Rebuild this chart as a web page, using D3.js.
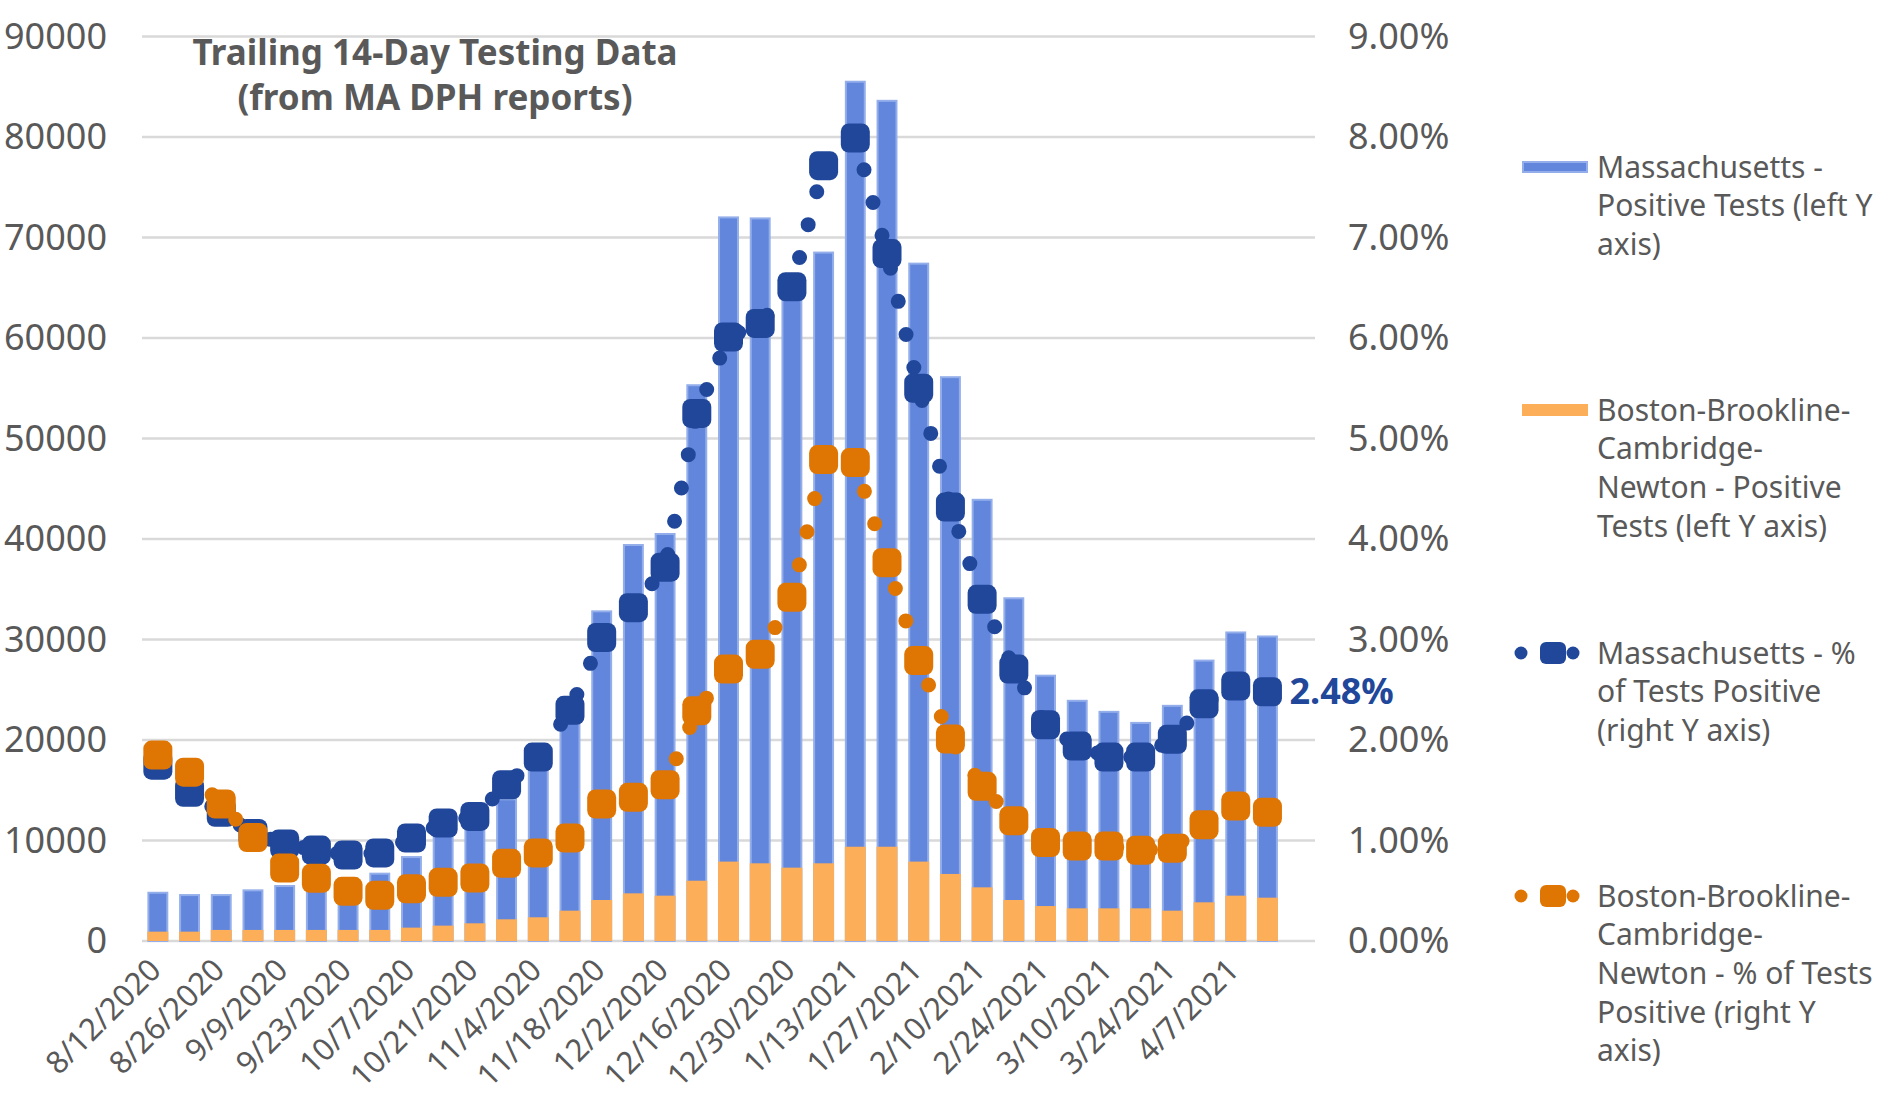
<!DOCTYPE html>
<html>
<head>
<meta charset="utf-8">
<script src="https://cdn.jsdelivr.net/npm/d3@7"></script>
<style>
  body { margin: 0; background: #fff; }
  text { font-family: "Noto Sans", sans-serif; fill: #595959; }
</style>
</head>
<body>
<div id="chart-area"></div>
<script>
// weekly report dates
var dates = ["8/12/2020","8/19/2020","8/26/2020","9/2/2020","9/9/2020","9/16/2020","9/23/2020","9/30/2020",
    "10/7/2020","10/14/2020","10/21/2020","10/28/2020","11/4/2020","11/11/2020","11/18/2020","11/25/2020",
    "12/2/2020","12/9/2020","12/16/2020","12/23/2020","12/30/2020","1/6/2021","1/13/2021","1/20/2021",
    "1/27/2021","2/3/2021","2/10/2021","2/17/2021","2/24/2021","3/3/2021","3/10/2021","3/17/2021",
    "3/24/2021","3/31/2021","4/7/2021","4/14/2021"];

var maPositive = [4900, 4670, 4670, 5140, 5570, 5900, 6300, 6800, 8450, 10700, 12000, 14200, 18000, 23000,
    32900, 39500, 40600, 55400, 72100, 72000, 65000, 68600, 85600, 83700, 67500, 56200, 44000, 34200,
    26500, 24000, 22900, 21800, 23500, 28000, 30800, 30400];

var bbcnPositive = [930, 930, 1100, 1100, 1100, 1100, 1100, 1100, 1330, 1530, 1760, 2160, 2360, 3020, 4080,
    4740, 4510, 6000, 7900, 7730, 7300, 7730, 9380, 9380, 7900, 6670, 5340, 4080, 3480, 3250, 3250, 3250,
    3020, 3850, 4510, 4310];

// percent of tests positive (in %)
var maPct = [1.75, 1.48, 1.28, 1.07, 0.965, 0.905, 0.856, 0.876, 1.025, 1.174, 1.24, 1.555, 1.83, 2.295,
    3.02, 3.317, 3.72, 5.25, 6.01, 6.145, 6.51, 7.715, 7.99, 6.84, 5.50, 4.318, 3.40, 2.706, 2.152, 1.94,
    1.83, 1.83, 2.007, 2.36, 2.537, 2.48];

var bbcnPct = [1.85, 1.68, 1.363, 1.03, 0.726, 0.624, 0.494, 0.455, 0.52, 0.584, 0.627, 0.773, 0.876, 1.025,
    1.363, 1.43, 1.555, 2.29, 2.706, 2.853, 3.42, 4.79, 4.76, 3.764, 2.79, 2.01, 1.54, 1.197, 0.98, 0.945,
    0.945, 0.902, 0.922, 1.157, 1.343, 1.28];

var leftTicks = [0, 10000, 20000, 30000, 40000, 50000, 60000, 70000, 80000, 90000];
var rightTicks = [0, 1, 2, 3, 4, 5, 6, 7, 8, 9];

var legendItems = [
    { type: "bar", color: "#6286DC", stroke: "#93AEEA", lines: ["Massachusetts -", "Positive Tests (left Y", "axis)"] },
    { type: "bar", color: "#FDAE58", stroke: "#FDAE58", lines: ["Boston-Brookline-", "Cambridge-", "Newton - Positive", "Tests (left Y axis)"] },
    { type: "line", color: "#21479A", lines: ["Massachusetts - %", "of Tests Positive", "(right Y axis)"] },
    { type: "line", color: "#DF7604", lines: ["Boston-Brookline-", "Cambridge-", "Newton - % of Tests", "Positive (right Y", "axis)"] }
];

var W = 1897, H = 1098;
var plotLeft = 142, plotRight = 1315, plotTop = 36.5, plotBottom = 941;

var svg = d3.select("#chart-area")
    .append("svg")
    .attr("width", W)
    .attr("height", H);

svg.append("rect").attr("width", W).attr("height", H).attr("fill", "#fff");

// one empty slot after the last week
var x = d3.scaleBand()
    .domain(dates.concat([""]))
    .range([plotLeft, plotRight])
    .paddingInner(0.34)
    .paddingOuter(0.17);

var yL = d3.scaleLinear().domain([0, 90000]).range([plotBottom, plotTop]);
var yR = d3.scaleLinear().domain([0, 9]).range([plotBottom, plotTop]);

function cx(d, i) { return x(dates[i]) + x.bandwidth() / 2; }

// gridlines
svg.append("g")
    .selectAll("line")
    .data(leftTicks)
    .enter()
    .append("line")
        .attr("x1", plotLeft)
        .attr("x2", plotRight)
        .attr("y1", function(d){ return yL(d); })
        .attr("y2", function(d){ return yL(d); })
        .attr("stroke", "#D9D9D9")
        .attr("stroke-width", 2.5);

// left axis
var yAxisL = d3.axisLeft(yL).tickValues(leftTicks).tickSize(0).tickPadding(35)
    .tickFormat(function(d){ return String(d); });
svg.append("g")
    .attr("transform", "translate(" + plotLeft + ",0)")
    .call(yAxisL)
    .call(function(g){ g.select(".domain").remove(); })
    .selectAll("text")
        .attr("font-size", "36px")
        .attr("fill", "#595959")
        .style("font-family", "'Noto Sans', sans-serif");

// right axis
var yAxisR = d3.axisRight(yR).tickValues(rightTicks).tickSize(0).tickPadding(33)
    .tickFormat(function(d){ return d.toFixed(2) + "%"; });
svg.append("g")
    .attr("transform", "translate(" + plotRight + ",0)")
    .call(yAxisR)
    .call(function(g){ g.select(".domain").remove(); })
    .selectAll("text")
        .attr("font-size", "36px")
        .attr("fill", "#595959")
        .style("font-family", "'Noto Sans', sans-serif");

// x axis labels every two weeks
var xAxis = d3.axisBottom(x)
    .tickValues(dates.filter(function(d, i){ return i % 2 === 0 && i < 35; }))
    .tickSize(0);
svg.append("g")
    .attr("transform", "translate(0," + plotBottom + ")")
    .call(xAxis)
    .call(function(g){ g.select(".domain").remove(); })
    .selectAll("text")
        .attr("font-size", "31px")
        .attr("fill", "#595959")
        .style("font-family", "'Noto Sans', sans-serif")
        .attr("text-anchor", "end")
        .attr("y", 0)
        .attr("dy", 0)
        .attr("transform", "translate(5,31) rotate(-45)");

// bars: MA behind, BBCN in front
svg.append("g")
    .selectAll("rect")
    .data(maPositive)
    .enter()
    .append("rect")
        .attr("x", function(d, i){ return x(dates[i]) + 1; })
        .attr("y", function(d){ return yL(d) + 1; })
        .attr("width", x.bandwidth() - 2)
        .attr("height", function(d){ return plotBottom - yL(d) - 1; })
        .attr("fill", "#6286DC")
        .attr("stroke", "#93AEEA")
        .attr("stroke-width", 2);

svg.append("g")
    .selectAll("rect")
    .data(bbcnPositive)
    .enter()
    .append("rect")
        .attr("x", function(d, i){ return x(dates[i]); })
        .attr("y", function(d){ return yL(d); })
        .attr("width", x.bandwidth())
        .attr("height", function(d){ return plotBottom - yL(d); })
        .attr("fill", "#FDAE58");

// percent series: dotted line + rounded square markers
function drawSeries(values, color) {
    var line = d3.line()
        .x(function(d, i){ return cx(d, i); })
        .y(function(d){ return yR(d); });

    svg.append("path")
        .datum(values)
        .attr("d", line)
        .attr("fill", "none")
        .attr("stroke", color)
        .attr("stroke-width", 15)
        .attr("stroke-linecap", "round")
        .attr("stroke-dasharray", "0 34");

    svg.append("g")
        .selectAll("rect")
        .data(values)
        .enter()
        .append("rect")
            .attr("x", function(d, i){ return cx(d, i) - 14.5; })
            .attr("y", function(d){ return yR(d) - 14.5; })
            .attr("width", 29)
            .attr("height", 29)
            .attr("rx", 8)
            .attr("fill", color);
}

drawSeries(maPct, "#21479A");
drawSeries(bbcnPct, "#DF7604");

// last value label
var last = maPct.length - 1;
svg.append("text")
    .attr("x", cx(maPct[last], last) + 22)
    .attr("y", yR(maPct[last]))
    .attr("dy", "0.35em")
    .attr("font-size", "36px")
    .attr("font-weight", "bold")
    .style("fill", "#21479A")
    .text(maPct[last].toFixed(2) + "%");

// title
svg.append("text")
    .attr("x", 435)
    .attr("y", 65)
    .attr("text-anchor", "middle")
    .attr("font-size", "35px")
    .attr("font-weight", "bold")
    .text("Trailing 14-Day Testing Data");
svg.append("text")
    .attr("x", 435)
    .attr("y", 110)
    .attr("text-anchor", "middle")
    .attr("font-size", "35px")
    .attr("font-weight", "bold")
    .text("(from MA DPH reports)");

// legend
var legend = svg.append("g");
legendItems.forEach(function(item, k){
    var cy = 167 + k * 243;
    if (item.type === "bar") {
        legend.append("rect")
            .attr("x", 1523)
            .attr("y", cy - 5)
            .attr("width", 64)
            .attr("height", 10)
            .attr("fill", item.color)
            .attr("stroke", item.stroke)
            .attr("stroke-width", 2);
    } else {
        legend.append("circle").attr("cx", 1521).attr("cy", cy).attr("r", 6.5).attr("fill", item.color);
        legend.append("circle").attr("cx", 1573).attr("cy", cy).attr("r", 6.5).attr("fill", item.color);
        legend.append("rect")
            .attr("x", 1540)
            .attr("y", cy - 11)
            .attr("width", 26)
            .attr("height", 22)
            .attr("rx", 6)
            .attr("fill", item.color);
    }
    var t = legend.append("text")
        .attr("font-size", "30px");
    item.lines.forEach(function(s, j){
        t.append("tspan")
            .attr("x", 1597)
            .attr("y", cy + j * 38.7)
            .attr("dy", "0.35em")
            .text(s);
    });
});
</script>
</body>
</html>
